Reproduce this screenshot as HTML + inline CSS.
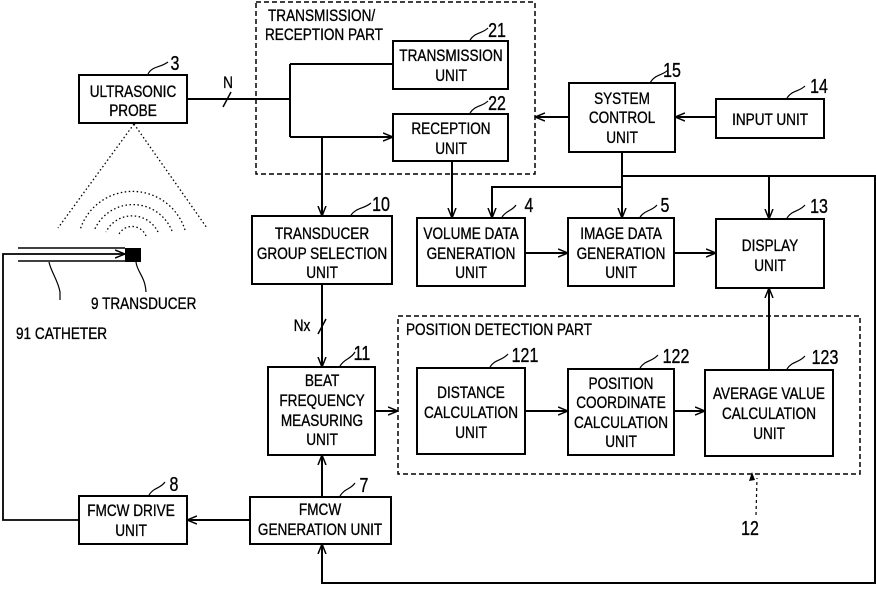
<!DOCTYPE html>
<html><head><meta charset="utf-8"><style>
body{margin:0;background:#fff}
svg{display:block}
text{font-family:"Liberation Sans",sans-serif;font-size:17px;fill:#000;text-anchor:middle;stroke:#000;stroke-width:0.35;transform-box:fill-box;transform-origin:center;transform:scaleX(0.8)}
text.l{text-anchor:start;transform-origin:left center}
text.n{font-size:20px}
</style></head><body>
<svg width="876" height="592" viewBox="0 0 876 592" xmlns="http://www.w3.org/2000/svg">
<defs>
<marker id="a" viewBox="0 0 10 10" refX="10" refY="5" markerWidth="10" markerHeight="10" orient="auto" markerUnits="userSpaceOnUse">
<path d="M0,1 L10,5 L0,9" fill="none" stroke="#000" stroke-width="1.5"/></marker>
</defs>
<g fill="none" stroke="#000" stroke-width="2">
<rect x="256" y="2" width="279" height="172" stroke-dasharray="5,3" stroke-width="1.5"/>
<rect x="398" y="316" width="462" height="158" stroke-dasharray="5,3" stroke-width="1.5"/>
<rect x="79" y="75" width="108" height="48"/>
<rect x="393" y="41" width="115" height="48"/>
<rect x="393" y="114" width="115" height="47"/>
<rect x="569" y="83" width="106" height="69"/>
<rect x="716" y="99" width="108" height="39"/>
<rect x="252" y="216" width="140" height="68"/>
<rect x="417" y="218" width="108" height="68"/>
<rect x="568" y="218" width="106" height="68"/>
<rect x="716" y="219" width="108" height="69"/>
<rect x="268" y="367" width="107" height="88"/>
<rect x="417" y="368" width="108" height="86"/>
<rect x="568" y="369" width="106" height="86"/>
<rect x="705" y="370" width="128" height="86"/>
<rect x="250" y="497" width="141" height="47"/>
<rect x="79" y="496" width="108" height="48"/>
<path d="M187 99 H290 M290 64 V137 M290 64 H393"/>
<path d="M290 137 H393" marker-end="url(#a)"/>
<path d="M322 137 V216" marker-end="url(#a)"/>
<path d="M452 161 V218" marker-end="url(#a)"/>
<path d="M569 117 H535" marker-end="url(#a)"/>
<path d="M716 117 H675" marker-end="url(#a)"/>
<path d="M622 152 V218" marker-end="url(#a)"/>
<path d="M622 187 H492 V218" marker-end="url(#a)"/>
<path d="M622 176 H769 V219" marker-end="url(#a)"/>
<path d="M769 176 H875 V583 H322 V544" marker-end="url(#a)"/>
<path d="M525 253 H568" marker-end="url(#a)"/>
<path d="M674 253 H716" marker-end="url(#a)"/>
<path d="M322 284 V367" marker-end="url(#a)"/>
<path d="M375 411 H398" marker-end="url(#a)"/>
<path d="M525 411 H568" marker-end="url(#a)"/>
<path d="M674 411 H705" marker-end="url(#a)"/>
<path d="M769 370 V288" marker-end="url(#a)"/>
<path d="M322 497 V455" marker-end="url(#a)"/>
<path d="M250 520 H187" marker-end="url(#a)"/>
<path d="M79 520 H3 V254 H125" marker-end="url(#a)" stroke-width="1.8"/>
<path d="M223 107 L231 92 M318 334 L326 319" stroke-width="1.5"/>
<path d="M18 248 H125 M18 261 H125" stroke-width="1.5"/>
<g stroke-width="1.2">
<path d="M148 74 C152 66 160 68 168 62"/>
<path d="M470 40 C475 32 482 34 488 28"/>
<path d="M470 113 C475 105 482 107 488 101"/>
<path d="M650 83 C655 74 662 76 668 70"/>
<path d="M787 98 C792 90 799 92 805 86"/>
<path d="M351 215 C357 207 364 209 371 203"/>
<path d="M502 217 C507 210 512 211 516 205"/>
<path d="M640 217 C645 210 652 211 657 205"/>
<path d="M787 218 C792 210 799 212 805 205"/>
<path d="M340 366 C345 358 350 360 355 352"/>
<path d="M490 367 C495 359 502 361 508 354"/>
<path d="M640 368 C645 360 652 362 658 355"/>
<path d="M787 369 C792 361 799 363 805 356"/>
<path d="M340 496 C345 488 350 490 355 483"/>
<path d="M149 495 C154 487 160 489 165 482"/>
<path d="M49 262 C51 272 58 280 60 292 V300"/>
<path d="M136 262 C137 272 145 276 146 292"/>
<path d="M756 515 L757 478" stroke-dasharray="3,3"/>
</g>
<g stroke-width="1.3" stroke-dasharray="1.5,2.5">
<path d="M134 124 L58 228 M134 124 L207 228"/>
<path d="M146 236 A15 15 0 0 0 119 234"/>
<path d="M158 232 A29 29 0 0 0 106 232"/>
<path d="M172 231 A42 42 0 0 0 94 231"/>
<path d="M185 230 A55 55 0 0 0 80 230"/>
</g>
</g>
<rect x="125" y="248" width="16" height="14" fill="#000"/>
<path d="M752 472 l-3 9 l6 -1 z" fill="#000"/>
<text x="133" y="97">ULTRASONIC</text><text x="133" y="116">PROBE</text>
<text class="n" x="175" y="70">3</text>
<text x="228" y="88">N</text>
<text class="l" x="268" y="21">TRANSMISSION/</text>
<text class="l" x="265" y="40">RECEPTION PART</text>
<text x="451" y="61">TRANSMISSION</text><text x="451" y="81">UNIT</text>
<text class="n" x="497" y="37">21</text>
<text x="451" y="134">RECEPTION</text><text x="451" y="154">UNIT</text>
<text class="n" x="497" y="110">22</text>
<text x="622" y="104">SYSTEM</text><text x="622" y="123">CONTROL</text><text x="622" y="143">UNIT</text>
<text class="n" x="672" y="77">15</text>
<text x="770" y="125">INPUT UNIT</text>
<text class="n" x="819" y="93">14</text>
<text x="322" y="239">TRANSDUCER</text><text x="322" y="259">GROUP SELECTION</text><text x="322" y="278">UNIT</text>
<text class="n" x="381" y="211">10</text>
<text x="471" y="239">VOLUME DATA</text><text x="471" y="259">GENERATION</text><text x="471" y="278">UNIT</text>
<text class="n" x="529" y="212">4</text>
<text x="621" y="239">IMAGE DATA</text><text x="621" y="259">GENERATION</text><text x="621" y="278">UNIT</text>
<text class="n" x="665" y="212">5</text>
<text x="770" y="251">DISPLAY</text><text x="770" y="271">UNIT</text>
<text class="n" x="819" y="213">13</text>
<text class="l" x="406" y="335">POSITION DETECTION PART</text>
<text x="322" y="386">BEAT</text><text x="322" y="406">FREQUENCY</text><text x="322" y="426">MEASURING</text><text x="322" y="445">UNIT</text>
<text class="n" x="362" y="360">11</text>
<text x="471" y="398">DISTANCE</text><text x="471" y="418">CALCULATION</text><text x="471" y="438">UNIT</text>
<text x="525" y="362" class="n">121</text>
<text x="621" y="389">POSITION</text><text x="621" y="408">COORDINATE</text><text x="621" y="428">CALCULATION</text><text x="621" y="447">UNIT</text>
<text class="n" x="676" y="363">122</text>
<text x="769" y="399">AVERAGE VALUE</text><text x="769" y="419">CALCULATION</text><text x="769" y="439">UNIT</text>
<text class="n" x="825" y="364">123</text>
<text x="320" y="515">FMCW</text><text x="320" y="535">GENERATION UNIT</text>
<text class="n" x="364" y="492">7</text>
<text x="131" y="516">FMCW DRIVE</text><text x="131" y="536">UNIT</text>
<text class="n" x="174" y="491">8</text>
<text x="302" y="331">Nx</text>
<text class="n" x="750" y="535">12</text>
<text class="l" x="91" y="309">9 TRANSDUCER</text>
<text class="l" x="16" y="339">91 CATHETER</text>
</svg>
</body></html>
